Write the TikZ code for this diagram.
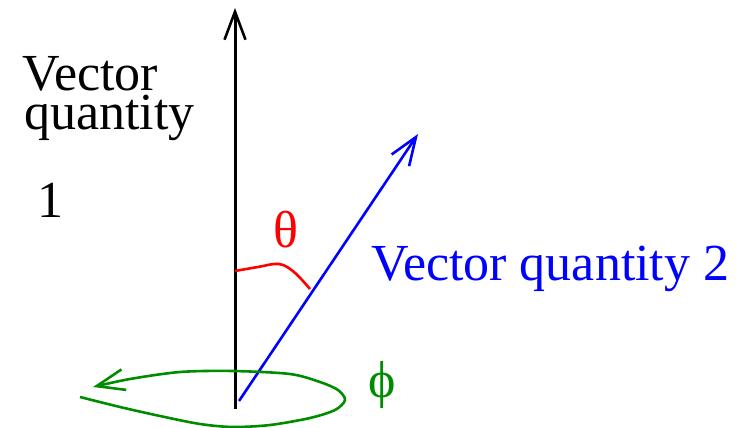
\documentclass[tikz,border=0pt]{standalone}
\usepackage{fontspec}
\setmainfont{Liberation Serif}
\usetikzlibrary{arrows.meta}
\definecolor{lgreen}{RGB}{0,140,0}
\begin{document}
\begin{tikzpicture}[x=1pt,y=-1pt,
  barb/.style={-{Straight Barb[length=28pt,width=21pt,line width=2.6pt]}},
  lbl/.style={inner sep=0pt,anchor=base west,font=\fontsize{52}{56}\selectfont},
  sym/.style={inner sep=0pt,anchor=center,font=\fontsize{52}{54}\selectfont}]
\useasboundingbox (0,0) rectangle (744,428);
% points
\coordinate (o1) at (235,409);
\coordinate (t1) at (235,8);
\coordinate (o2) at (239,401);
\coordinate (t2) at (418,134);
% vectors
\draw[barb,line width=3pt,black] (o1) -- (t1);
\draw[barb,line width=2.6pt,blue] (o2) -- (t2);
% angle
\draw[red,line width=2.6pt] plot[smooth,tension=0.6] coordinates{(235,271) (258,267) (279,264) (294,272) (310,289)};
% loop
\draw[barb,lgreen,line width=2.6pt] plot[smooth,tension=0.5] coordinates{
 (80,397) (120,407) (160,416) (200,424) (233,427) (270,425) (310,418) (335,410) (345,400) (338,390) (320,382) (290,374) (233,371) (180,372) (130,379) (93,387)};
% labels
\node[lbl] (v1a) at (22,90) {Vector};
\node[lbl] (v1b) at (24,129) {quantity};
\node[lbl] (v1c) at (37,217) {1};
\node[lbl,text=blue] (v2) at (371,280) {Vector quantity 2};
\node[sym,text=red] (th) at (286,230) {θ};
\node[sym,text=lgreen] (ph) at (382,385) {ϕ};
\end{tikzpicture}
\end{document}
